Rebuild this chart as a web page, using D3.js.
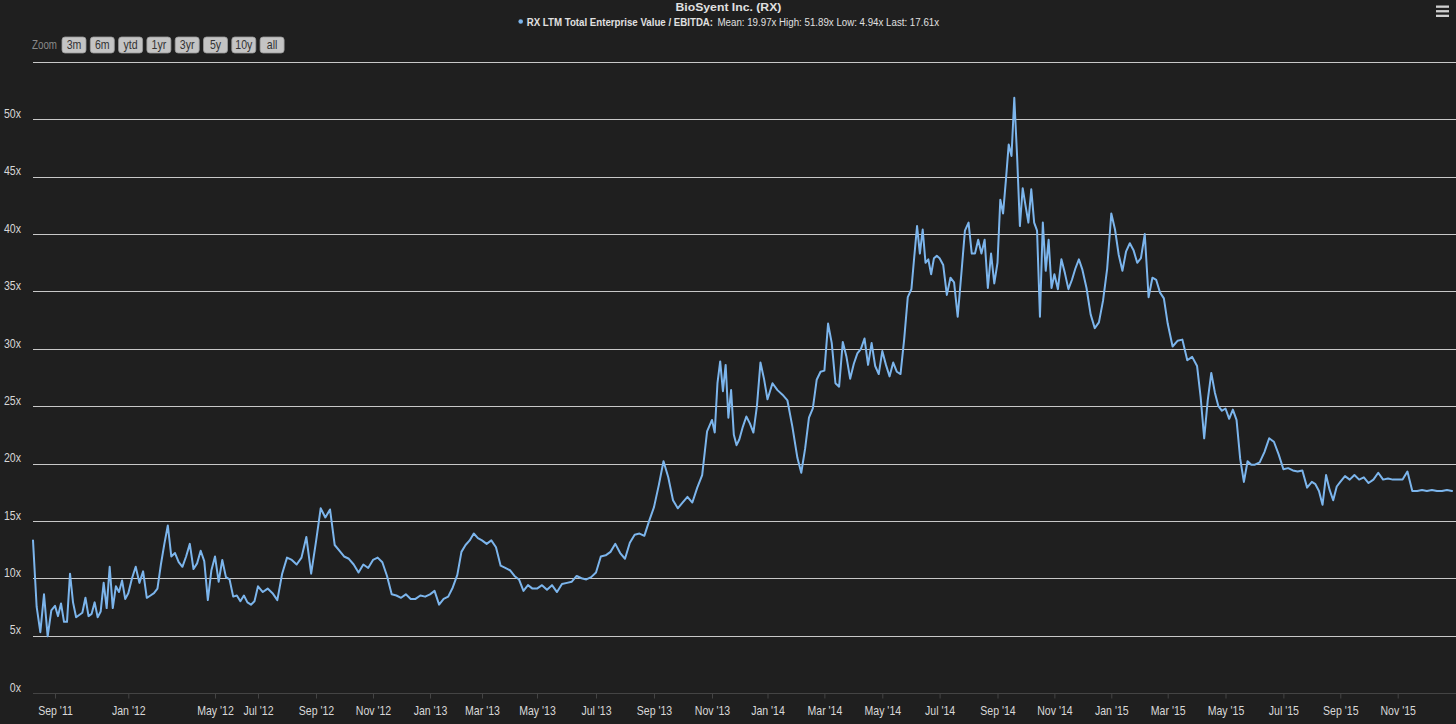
<!DOCTYPE html>
<html><head><meta charset="utf-8">
<script src="https://cdn.jsdelivr.net/npm/d3@7"></script>
<style>
html,body{margin:0;padding:0;background:#1f1f1f;}
svg{display:block;font-family:"Liberation Sans",Arial,sans-serif;}
</style></head><body>
<svg id="chart" width="1456" height="724"></svg>
<script>
// ---------- data ----------
const chartTitle = "BioSyent Inc. (RX)";
const seriesName = "RX LTM Total Enterprise Value / EBITDA:";
const seriesStats = "Mean: 19.97x High: 51.89x Low: 4.94x Last: 17.61x";
const zoomButtons = ["3m", "6m", "ytd", "1yr", "3yr", "5y", "10y", "all"];
const yTickValues = [0, 5, 10, 15, 20, 25, 30, 35, 40, 45, 50];
const gridValues = [5, 10, 15, 20, 25, 30, 35, 40, 45, 50, 55];
const xTickMonths = ["2011-09", "2012-01", "2012-05", "2012-07", "2012-09", "2012-11",
  "2013-01", "2013-03", "2013-05", "2013-07", "2013-09", "2013-11",
  "2014-01", "2014-03", "2014-05", "2014-07", "2014-09", "2014-11",
  "2015-01", "2015-03", "2015-05", "2015-07", "2015-09", "2015-11"];
// observations within each month, evenly spread across the month
const months = ["2011-08","2011-09","2011-10","2011-11","2011-12",
  "2012-01","2012-02","2012-03","2012-04","2012-05","2012-06","2012-07","2012-08","2012-09","2012-10","2012-11","2012-12",
  "2013-01","2013-02","2013-03","2013-04","2013-05","2013-06","2013-07","2013-08","2013-09","2013-10","2013-11","2013-12",
  "2014-01","2014-02","2014-03","2014-04","2014-05","2014-06","2014-07","2014-08","2014-09","2014-10","2014-11","2014-12",
  "2015-01","2015-02","2015-03","2015-04","2015-05","2015-06","2015-07","2015-08","2015-09","2015-10","2015-11","2015-12"];
const monthValues = [
  [13.3, 7.5, 5.3, 8.6, 4.94, 7.2],
  [7.6, 6.7, 7.8, 6.2, 6.2, 10.4],
  [7.9, 6.6, 6.8, 7.0, 8.3, 6.7],
  [6.9, 7.9, 6.6, 7.1, 9.6, 7.4],
  [11.0, 7.4, 9.3, 8.8, 9.8, 8.2],
  [8.7, 10.0, 11.0, 9.6, 10.6, 8.3],
  [8.5, 8.7, 9.1, 11.2, 13.0, 14.6],
  [11.9, 12.2, 11.4, 11.0, 11.9, 13.0],
  [10.8, 11.3, 12.4, 11.5, 8.1, 10.7],
  [11.9, 9.7, 11.6, 10.1, 9.9, 8.4],
  [8.5, 8.0, 8.5, 7.9, 7.7, 8.0],
  [9.3, 8.8, 9.1, 8.7, 8.1, 10.4],
  [11.8, 11.6, 11.2, 11.8, 13.6, 10.4],
  [13.2, 16.1, 15.3, 16.0, 12.9, 12.4],
  [11.9, 11.7, 11.2, 10.5, 11.2, 10.9],
  [11.6, 11.8, 11.4, 10.2, 8.6, 8.5],
  [8.3, 8.6, 8.2, 8.2, 8.5, 8.4],
  [8.6, 8.9, 7.7, 8.2, 8.4, 9.2],
  [10.3, 12.3, 12.9, 13.3, 13.9, 13.5],
  [13.3, 13.0, 13.3, 12.7, 11.1, 10.9],
  [10.7, 10.2, 9.9, 8.9, 9.4, 9.1],
  [9.1, 9.4, 9.0, 9.4, 8.8, 9.5],
  [9.6, 9.7, 10.2, 10.0, 9.9, 10.1],
  [10.5, 11.9, 12.0, 12.3, 13.0, 12.2],
  [11.7, 13.1, 13.8, 13.9, 13.7, 15.0],
  [16.2, 18.1, 20.2, 18.8, 16.8, 16.1],
  [16.6, 17.1, 16.6, 17.9, 19.0, 22.8],
  [23.8, 22.7, 27.0, 28.9, 26.3, 28.6, 24.0, 26.4, 22.5, 21.6],
  [22.1, 23.2, 24.1, 23.5, 22.7, 25.0, 28.8, 27.4],
  [25.6, 27.0, 26.4, 26.0, 25.5, 23.2],
  [20.5, 19.2, 21.3, 24.0, 24.8, 27.3, 28.0],
  [28.1, 32.2, 30.5, 27.0, 26.7, 30.6, 29.3, 27.4],
  [28.7, 29.6, 30.0, 30.9, 28.6, 30.5, 28.5, 27.8],
  [29.8, 28.6, 27.6, 28.8, 28.0, 27.8, 30.8, 34.5],
  [35.2, 38.0, 40.7, 38.3, 40.4, 37.5, 37.8, 36.5, 37.9, 38.1],
  [37.9, 37.3, 34.7, 36.2, 35.8, 32.8, 36.5, 40.3],
  [41.0, 38.3, 38.3, 39.5, 38.3, 39.5, 35.3, 38.3, 35.7],
  [37.5, 43.0, 41.8, 44.7, 47.8, 46.8, 51.89, 46.8, 40.7, 44.0],
  [42.5, 41.0, 43.9, 41.0, 40.3, 32.8, 41.0, 36.8, 39.5, 35.3],
  [36.5, 35.2, 37.8, 36.6, 35.2, 36.0, 37.0, 37.8],
  [36.9, 35.3, 33.0, 31.8, 32.3, 34.2, 37.0],
  [41.8, 40.4, 38.2, 36.8, 38.5, 39.2, 38.6, 37.5],
  [37.9, 40.0, 34.5, 36.2, 36.0, 34.9, 34.4],
  [32.2, 30.2, 30.7, 30.8, 29.0, 29.3],
  [28.5, 25.8, 22.2, 25.5, 27.9, 26.2, 25.0, 24.6],
  [24.8, 23.9, 24.7, 23.8, 20.4, 18.4, 20.2, 19.9],
  [19.9, 20.1, 21.0, 22.2, 21.9, 20.8],
  [19.5, 19.6, 19.4, 19.3, 19.4, 17.9],
  [18.4, 18.2, 17.6, 16.4, 19.0, 17.7, 16.8, 18.0],
  [18.4, 18.9, 18.6, 19.0, 18.6, 18.8],
  [18.3, 18.6, 19.2, 18.6, 18.7, 18.6],
  [18.6, 18.6, 19.3, 17.6, 17.6, 17.7],
  [17.6, 17.7, 17.6, 17.6, 17.7, 17.61]
];

// ---------- layout ----------
const W = 1456, H = 724;
const plot = { left: 33, right: 1452, gridRight: 1456, top: 62, bottom: 693 };
// ordinal (trading-day) axis: pixel anchor of each labelled month
const xTickPx = [55, 128.3, 215, 258, 316, 373, 430, 482, 537, 596, 654, 712,
  767.5, 824.4, 882.3, 939.6, 997.5, 1054.4, 1111.3, 1167.7, 1225.5, 1283.4, 1340.3, 1397.7];
const colors = { bg: "#1f1f1f", grid: "#c8c8c8", axis: "#444", line: "#7cb5ec",
  text: "#e0e0e0", label: "#d8d8d8", btnFill: "#c4c4c4", btnText: "#333", zoomLabel: "#8a8a8a" };
const FONT = "Liberation Sans, Arial, sans-serif";
const condense = "scale(0.88,1)";

const parseMonth = d3.timeParse("%Y-%m");
const data = [];
months.forEach((m, mi) => {
  const start = parseMonth(m);
  const next = d3.timeMonth.offset(start, 1);
  const vals = monthValues[mi];
  vals.forEach((v, i) => {
    data.push({ date: new Date(+start + (i / vals.length) * (next - start)), value: v });
  });
});

const tickDates = xTickMonths.map(parseMonth);
const x = d3.scaleTime()
  .domain([data[0].date, ...tickDates, data[data.length - 1].date])
  .range([plot.left, ...xTickPx, plot.right]);
const y = d3.scaleLinear().domain([0, 55]).range([plot.bottom, plot.top]);

const svg = d3.select("#chart");
svg.append("rect").attr("width", W).attr("height", H).attr("fill", colors.bg);

// grid lines
svg.append("g").selectAll("line").data(gridValues).join("line")
  .attr("x1", plot.left).attr("x2", plot.gridRight)
  .attr("y1", d => Math.round(y(d)) + 0.5).attr("y2", d => Math.round(y(d)) + 0.5)
  .attr("stroke", colors.grid).attr("stroke-width", 1);

// x axis
const fmt = d3.timeFormat("%b '%y");
const xAxis = d3.axisBottom(x).tickValues(tickDates).tickFormat(fmt).tickSize(5).tickPadding(8);
const gx = svg.append("g").attr("transform", `translate(0,${plot.bottom + 0.5})`).call(xAxis);
gx.select(".domain").attr("d", `M${plot.left},0H${plot.gridRight}`).attr("stroke", colors.axis);
gx.selectAll(".tick line").attr("stroke", colors.axis);
gx.selectAll(".tick text").attr("fill", colors.label).attr("font-size", 12)
  .attr("font-family", FONT).attr("transform", condense);

// y axis labels
const yAxis = d3.axisLeft(y).tickValues(yTickValues).tickFormat(d => d + "x").tickSize(0).tickPadding(0);
const gy = svg.append("g").attr("transform", `translate(${plot.left - 12},0)`).call(yAxis);
gy.select(".domain").remove();
gy.selectAll(".tick text").attr("fill", colors.label).attr("font-size", 12)
  .attr("font-family", FONT).attr("dy", "-0.15em").attr("transform", condense);

// series line
const line = d3.line().x(d => x(d.date)).y(d => y(d.value));
svg.append("path").datum(data).attr("d", line)
  .attr("fill", "none").attr("stroke", colors.line).attr("stroke-width", 2)
  .attr("stroke-linejoin", "round").attr("stroke-linecap", "round");

// helper: condensed text placed by its left edge and fitted to a width via a transform
function fittedText(str, left, baseline, width, size, weight, fill) {
  const t = svg.append("text").attr("x", 0).attr("y", 0)
    .attr("fill", fill).attr("font-size", size).attr("font-weight", weight).text(str);
  const natural = t.node().getComputedTextLength();
  t.attr("transform", `translate(${left},${baseline}) scale(${width / natural},1)`);
  return t;
}

// title
fittedText(chartTitle, 675.5, 10.5, 106, 11.5, "bold", colors.text);

// legend line (bold series name + plain stats)
const legX = 526.7;
fittedText(seriesName, legX, 25.5, 186.6, 11.5, "bold", colors.text);
fittedText(seriesStats, 717.5, 25.5, 221.8, 11.5, "normal", colors.text);
svg.append("circle").attr("cx", legX - 6).attr("cy", 21.5).attr("r", 2.3).attr("fill", colors.line);

// zoom selector
fittedText("Zoom", 32, 49, 25, 12, "normal", colors.zoomLabel);
const btn = svg.append("g").selectAll("g").data(zoomButtons).join("g")
  .attr("transform", (d, i) => `translate(${62 + i * 28.3},37)`);
btn.append("rect").attr("width", 24).attr("height", 16).attr("rx", 3)
  .attr("fill", colors.btnFill).attr("stroke", "#9a9a9a").attr("stroke-width", 0.8);
btn.append("text").attr("x", 12).attr("y", 12.5).attr("text-anchor", "middle")
  .attr("fill", colors.btnText).attr("font-size", 12).text(d => d)
  .attr("transform", "translate(12,0) scale(0.88,1) translate(-12,0)");

// context menu icon
svg.append("g").selectAll("rect").data([0, 1, 2]).join("rect")
  .attr("x", 1436).attr("y", d => 5.5 + d * 4.6).attr("width", 13).attr("height", 2.3)
  .attr("fill", "#d0d0d0");
</script>
</body></html>
